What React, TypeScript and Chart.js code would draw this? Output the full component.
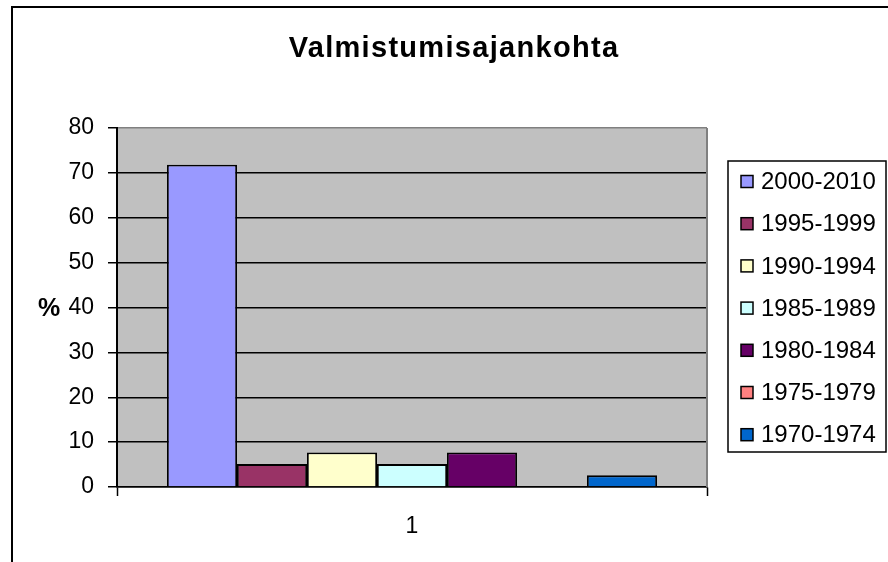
import React, { useEffect, useRef } from "react";
import { Chart, registerables } from "chart.js";

Chart.register(...registerables);

const categories = ["1"];
const seriesLabels = [
  "2000-2010",
  "1995-1999",
  "1990-1994",
  "1985-1989",
  "1980-1984",
  "1975-1979",
  "1970-1974",
];
const seriesValues = [71.8, 5.1, 7.7, 5.1, 7.7, 0, 2.6];
const seriesColors = [
  "#9999FF",
  "#993366",
  "#FFFFCC",
  "#CCFFFF",
  "#660066",
  "#FF8080",
  "#0066CC",
];
const titleText = "Valmistumisajankohta";
const yAxisTitle = "%";
const yMin = 0;
const yMax = 80;
const yStep = 10;

const FONT = "'Liberation Sans', Arial, sans-serif";

const decorPlugin = {
  id: "decor",
  beforeDraw(chart: any) {
    const { ctx, chartArea } = chart;
    ctx.save();
    ctx.fillStyle = "#ffffff";
    ctx.fillRect(0, 0, chart.width, chart.height);
    ctx.fillStyle = "#C0C0C0";
    ctx.fillRect(
      chartArea.left,
      chartArea.top,
      chartArea.right - chartArea.left,
      chartArea.bottom - chartArea.top
    );
    ctx.restore();
  },
  beforeDatasetsDraw(chart: any) {
    const { ctx, chartArea } = chart;
    ctx.save();
    ctx.strokeStyle = "#808080";
    ctx.lineWidth = 2;
    ctx.beginPath();
    ctx.moveTo(chartArea.right, chartArea.top);
    ctx.lineTo(chartArea.right, chartArea.bottom);
    ctx.stroke();
    ctx.restore();
  },
  afterDraw(chart: any) {
    const { ctx } = chart;
    ctx.save();
    // outer frame
    ctx.strokeStyle = "#000";
    ctx.lineWidth = 2;
    ctx.strokeRect(12, 7, 1000, 1000);

    // title
    ctx.fillStyle = "#000";
    ctx.font = `bold 29px ${FONT}`;
    (ctx as any).letterSpacing = "1.3px";
    ctx.textAlign = "center";
    ctx.textBaseline = "alphabetic";
    ctx.fillText(titleText, 454, 57);
    (ctx as any).letterSpacing = "0px";

    // y axis title
    ctx.font = `bold 25px ${FONT}`;
    ctx.textAlign = "center";
    ctx.fillText(yAxisTitle, 49, 316);

    // legend
    const lx = 728,
      ly = 161,
      lw = 158,
      lh = 291;
    ctx.fillStyle = "#fff";
    ctx.fillRect(lx, ly, lw, lh);
    ctx.strokeStyle = "#000";
    ctx.lineWidth = 1.5;
    ctx.strokeRect(lx, ly, lw, lh);
    ctx.font = `24px ${FONT}`;
    ctx.textAlign = "left";
    ctx.textBaseline = "middle";
    chart.data.datasets.forEach((ds: any, i: number) => {
      const cy = 181.5 + i * 42.2;
      ctx.fillStyle = ds.backgroundColor;
      ctx.fillRect(741, cy - 6, 12, 12);
      ctx.strokeStyle = "#000";
      ctx.lineWidth = 1.5;
      ctx.strokeRect(741, cy - 6, 12, 12);
      ctx.fillStyle = "#000";
      ctx.fillText(ds.label, 761, cy + 1);
    });
    ctx.restore();
  },
};

export default function App() {
  const ref = useRef<HTMLCanvasElement>(null);
  useEffect(() => {
    if (!ref.current) return;
    const chart = new Chart(ref.current, {
      type: "bar",
      data: {
        labels: categories,
        datasets: seriesLabels.map((label, i) => ({
          label,
          data: [seriesValues[i]],
          backgroundColor: seriesColors[i],
          borderColor: "#000",
          borderWidth: 1.8,
          borderSkipped: "bottom" as const,
          barPercentage: 1,
          categoryPercentage: 490 / 590,
        })),
      },
      options: {
        responsive: false,
        animation: false,
        events: [],
        layout: { padding: { left: 0, top: 128, right: 181, bottom: 0 } },
        plugins: {
          legend: { display: false },
          title: { display: false },
          tooltip: { enabled: false },
        },
        scales: {
          x: {
            offset: true,
            afterFit(scale: any) {
              scale.height = 75;
            },
            grid: {
              display: true,
              drawOnChartArea: false,
              drawTicks: true,
              tickLength: 9,
              tickColor: "#000",
              tickWidth: 1.5,
            },
            border: { display: true, color: "#000", width: 1.5 },
            ticks: {
              color: "#000",
              font: { family: FONT, size: 23 },
              padding: 17,
            },
          },
          y: {
            min: yMin,
            max: yMax,
            afterFit(scale: any) {
              scale.width = 117;
            },
            grid: {
              color: (c: any) => (c.tick && c.tick.value === yMax ? "#808080" : "#000"),
              lineWidth: 1.5,
              drawTicks: true,
              tickLength: 9,
              tickColor: "#000",
              tickWidth: 1.5,
            },
            border: { display: true, color: "#000", width: 2 },
            ticks: {
              stepSize: yStep,
              color: "#000",
              font: { family: FONT, size: 23 },
              padding: 14,
            },
          },
        },
      },
      plugins: [decorPlugin],
    });
    return () => chart.destroy();
  }, []);
  return (
    <div style={{ position: "absolute", left: 0, top: 0, width: 888, height: 562 }}>
      <canvas ref={ref} width={888} height={562} style={{ display: "block" }} />
    </div>
  );
}
